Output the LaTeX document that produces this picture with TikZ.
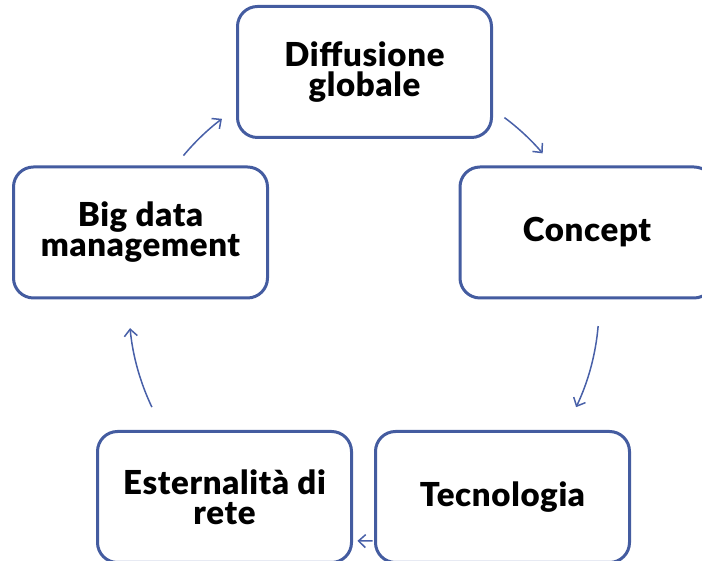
\documentclass[tikz,border=0pt]{standalone}
\usepackage{fontspec}
\setmainfont{Lato}[BoldFont={Lato Black},BoldFeatures={LetterSpace=2}]
\usetikzlibrary{arrows.meta}
\definecolor{boxblue}{RGB}{68,92,160}
\definecolor{arrowblue}{RGB}{72,96,168}
\tikzset{
  cyclebox/.style={draw=boxblue, line width=3pt, fill=white, rounded corners=20pt,
    minimum width=254pt, minimum height=131pt, align=center, inner sep=0pt,
    font=\bfseries\fontsize{33}{30}\selectfont},
  cyclearrow/.style={draw=arrowblue, line width=1.5pt, -{Straight Barb[length=7pt,width=13pt]}}
}
\begin{document}
\begin{tikzpicture}[x=1pt,y=1pt]
\useasboundingbox (0,0) rectangle (702,561);
\coordinate (c) at (364,255);
% arrows (circle arcs)
\draw[cyclearrow] ([shift={(140.2:235)}]c) arc[start angle=140.2, end angle=127.2, radius=235];
\draw[cyclearrow] ([shift={(53.3:235)}]c) arc[start angle=53.3, end angle=40.5, radius=235];
\draw[cyclearrow] ([shift={(-4.9:235)}]c) arc[start angle=-4.9, end angle=-25.5, radius=235];
\draw[cyclearrow] ([shift={(-87.9:235)}]c) arc[start angle=-87.9, end angle=-91.6, radius=235];
\draw[cyclearrow] ([shift={(205.5:235)}]c) arc[start angle=205.5, end angle=185.4, radius=235];
% boxes
\node[cyclebox] (diff) at (364.5,489) {Diffusione\\globale};
\node[cyclebox] (conc) at (587,328.5) {Concept};
\node[cyclebox] (tecn) at (502.5,64) {Tecnologia};
\node[cyclebox] (este) at (224.5,64) {Esternalità di\\rete};
\node[cyclebox] (bigd) at (140.5,328.5) {Big data\\management};
\end{tikzpicture}
\end{document}
